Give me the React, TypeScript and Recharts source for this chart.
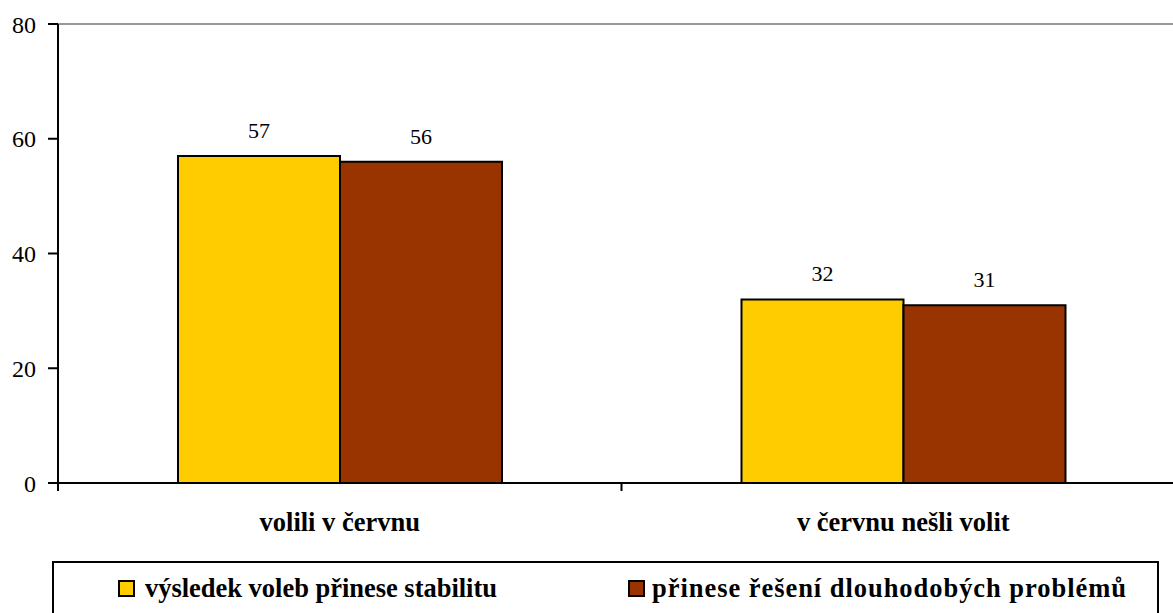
import React from "react";
import { BarChart, Bar, XAxis, YAxis, ReferenceLine, LabelList } from "recharts";

const categories = ["volili v červnu", "v červnu nešli volit"];
const seriesNames = ["výsledek voleb přinese stabilitu", "přinese řešení dlouhodobých problémů"];
const stabilita = [57, 32];
const reseni = [56, 31];
const yTicks = [0, 20, 40, 60, 80];
const colors = ["#FFCC00", "#993300"];

const data = categories.map((c, i) => ({ name: c, s1: stabilita[i], s2: reseni[i] }));

const FONT = "'Liberation Serif', 'Times New Roman', serif";
const CHART_W = 1185;
const PLOT_LEFT = 58;
const BAND = (CHART_W - PLOT_LEFT) / categories.length;

const CatTick = (props: any) => {
  const { x, y, payload } = props;
  const left = x - BAND / 2;
  return (
    <g>
      <line x1={left} y1={y} x2={left} y2={y + 8} stroke="#000" strokeWidth={2} />
      <text x={x} y={y + 48} textAnchor="middle" fontFamily={FONT} fontWeight="bold" fontSize={26.5} fill="#000">
        {payload.value}
      </text>
    </g>
  );
};

const legendSquareX = [118, 628];
const legendTextX = [145, 652];
const legendTextLen = [352, 474];

export default function App() {
  return (
    <div style={{ position: "absolute", left: 0, top: 0, width: 1173, height: 613, overflow: "hidden", background: "#fff" }}>
      <BarChart
        width={CHART_W}
        height={613}
        data={data}
        margin={{ top: 24, right: 0, left: 0, bottom: 70 }}
        barCategoryGap={120}
        barGap={0}
      >
        <ReferenceLine y={80} stroke="#999" strokeWidth={2} />
        <XAxis
          dataKey="name"
          height={60}
          axisLine={{ stroke: "#000", strokeWidth: 2 }}
          tickLine={false}
          tickSize={0}
          tickMargin={0}
          tick={<CatTick />}
          interval={0}
        />
        <YAxis
          width={PLOT_LEFT}
          domain={[0, 80]}
          ticks={yTicks}
          axisLine={{ stroke: "#000", strokeWidth: 2 }}
          tickLine={{ stroke: "#000", strokeWidth: 2 }}
          tickSize={10}
          tickMargin={12}
          tick={{ fill: "#000", fontFamily: FONT, fontSize: 24 }}
        />
        <Bar dataKey="s1" fill={colors[0]} stroke="#000" strokeWidth={2} isAnimationActive={false}>
          <LabelList dataKey="s1" position="top" offset={18} fill="#000" fontFamily={FONT} fontSize={22} />
        </Bar>
        <Bar dataKey="s2" fill={colors[1]} stroke="#000" strokeWidth={2} isAnimationActive={false}>
          <LabelList dataKey="s2" position="top" offset={18} fill="#000" fontFamily={FONT} fontSize={22} />
        </Bar>
      </BarChart>
      <svg width={1173} height={613} style={{ position: "absolute", left: 0, top: 0, pointerEvents: "none" }}>
        <rect x={53} y={562} width={1105} height={80} fill="none" stroke="#000" strokeWidth={2} />
        {seriesNames.map((n, i) => (
          <g key={n}>
            <rect x={legendSquareX[i] + 1} y={581} width={15} height={15} fill={colors[i]} stroke="#000" strokeWidth={2} />
            <text
              x={legendTextX[i]}
              y={597}
              fontFamily={FONT}
              fontWeight="bold"
              fontSize={26.5}
              fill="#000"
              textLength={legendTextLen[i]}
              lengthAdjust="spacing"
            >
              {n}
            </text>
          </g>
        ))}
      </svg>
    </div>
  );
}
